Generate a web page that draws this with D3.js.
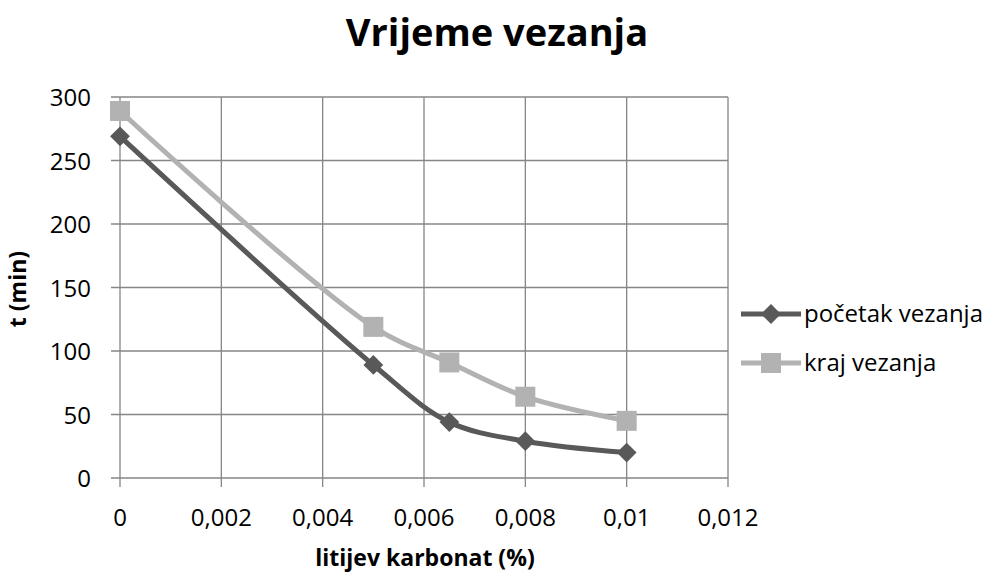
<!DOCTYPE html>
<meta charset="utf-8">
<style>
body { margin: 0; background: #fff; }
text { font-family: "Open Sans", "Liberation Sans", sans-serif; fill: #000; }
</style>
<body>
<script src="https://d3js.org/d3.v7.min.js"></script>
<script>

// data
var xVals = [0, 0.005, 0.0065, 0.008, 0.01];
var pocetak = [269, 89, 44, 29, 20];
var kraj = [289, 119, 91, 64, 45];
var seriesNames = ["početak vezanja", "kraj vezanja"];
var xTicks = [0, 0.002, 0.004, 0.006, 0.008, 0.01, 0.012];
var yTicks = [0, 50, 100, 150, 200, 250, 300];

var W = 999, H = 577;
var plot = {left: 120, right: 728, top: 97, bottom: 478};

var svg = d3.select("body").append("svg")
    .attr("width", W).attr("height", H);

var x = d3.scaleLinear().domain([0, 0.012]).range([plot.left, plot.right]);
var y = d3.scaleLinear().domain([0, 300]).range([plot.bottom, plot.top]);

var gridCol = "#868686";

// grid + tick marks
svg.append("g").selectAll("line").data(yTicks).enter().append("line")
    .attr("x1", plot.left - 9).attr("x2", plot.right)
    .attr("y1", d => y(d)).attr("y2", d => y(d))
    .attr("stroke", gridCol).attr("stroke-width", 1.3);
svg.append("g").selectAll("line").data(xTicks).enter().append("line")
    .attr("x1", d => x(d)).attr("x2", d => x(d))
    .attr("y1", plot.top).attr("y2", plot.bottom + 9)
    .attr("stroke", gridCol).attr("stroke-width", 1.3);

// tick labels
var fmt = d => String(d).replace(".", ",");
svg.append("g").selectAll("text").data(yTicks).enter().append("text")
    .attr("x", 91).attr("y", d => y(d) + 9)
    .attr("text-anchor", "end").style("font-size", "24px")
    .text(d => d);
svg.append("g").selectAll("text").data(xTicks).enter().append("text")
    .attr("x", d => x(d)).attr("y", 526)
    .attr("text-anchor", "middle").style("font-size", "24px")
    .text(fmt);

// titles
svg.append("text").attr("x", 497).attr("y", 46)
    .attr("text-anchor", "middle").style("font-size", "38px").style("font-weight", "bold")
    .text("Vrijeme vezanja");
svg.append("text").attr("x", 425).attr("y", 566)
    .attr("text-anchor", "middle").style("font-size", "23px").style("font-weight", "bold")
    .text("litijev karbonat (%)");
svg.append("text").attr("transform", "translate(26,289) rotate(-90)")
    .attr("text-anchor", "middle").style("font-size", "23px").style("font-weight", "bold")
    .text("t (min)");

// series
var series = [
  {name: seriesNames[0], vals: pocetak, color: "#595959", diamond: true},
  {name: seriesNames[1], vals: kraj, color: "#b2b2b2", diamond: false}
];

function marker(g, s) {
  var side = s.diamond ? 14 : 20;
  g.append("rect")
      .attr("x", -side / 2).attr("y", -side / 2)
      .attr("width", side).attr("height", side)
      .attr("transform", s.diamond ? "rotate(45)" : null)
      .attr("fill", s.color);
}

var line = d3.line().curve(d3.curveCatmullRom.alpha(0.5))
    .x((d, i) => x(xVals[i])).y(d => y(d));

series.slice().reverse().forEach(function(s) {
  svg.append("path").datum(s.vals)
      .attr("d", line).attr("fill", "none")
      .attr("stroke", s.color).attr("stroke-width", 5);
  svg.append("g").selectAll("g").data(s.vals).enter().append("g")
      .attr("transform", (d, i) => `translate(${x(xVals[i])},${y(d)})`)
      .each(function() { marker(d3.select(this), s); });
});

// legend
series.forEach(function(s, i) {
  var ly = 314 + i * 49;
  svg.append("line").attr("x1", 741).attr("x2", 801).attr("y1", ly).attr("y2", ly)
      .attr("stroke", s.color).attr("stroke-width", 5);
  marker(svg.append("g").attr("transform", `translate(771,${ly})`), s);
  svg.append("text").attr("x", 804).attr("y", ly + 8)
      .style("font-size", "24px").text(s.name);
});

</script>
</body>
</html>
